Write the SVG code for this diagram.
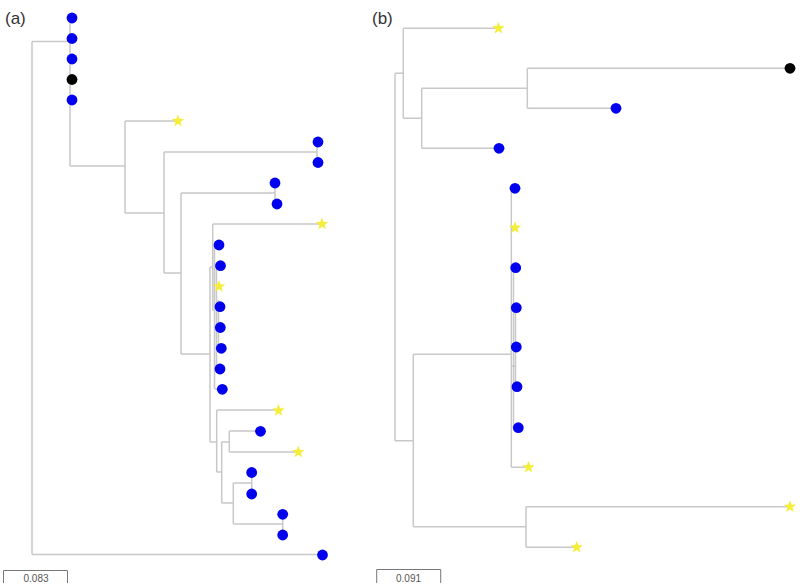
<svg xmlns="http://www.w3.org/2000/svg" xmlns:xlink="http://www.w3.org/1999/xlink" width="800" height="585" viewBox="0 0 800 585">
<style>
.e{fill:none;stroke:#c8c8c8;stroke-width:1.5}
.b{fill:#0000ee}
.k{fill:#000}
.s{fill:#f4ee3a}
.lbl{font-family:"Liberation Sans",Arial,sans-serif;font-size:17px;fill:#333}
.sc{font-family:"Liberation Sans",Arial,sans-serif;font-size:10px;fill:#555;text-anchor:middle}
.bar{fill:none;stroke:#777;stroke-width:1}
</style>
<defs>
<path id="star" d="M0,-6.5 L1.6,-2.2 L6.2,-2 L2.6,0.9 L3.8,5.3 L0,2.8 L-3.8,5.3 L-2.6,0.9 L-6.2,-2 L-1.6,-2.2 Z"/>
</defs>
<rect width="800" height="585" fill="#fff"/>
<text class="lbl" x="5" y="24">(a)</text>
<text class="lbl" x="372" y="24">(b)</text>
<g id="connectors">
<path class="e" d="M32 41.5V554.5M32 41.5H70M32 554.5H318
M70 18V166M70 166H125
M125 121V213M125 121H178M125 213H164
M164 152V273M164 152H317M317 142V162
M164 273H181M181 193V354M181 193H275M275 183V204M275 204H277
M181 354H210M210 267V442M210 267H212.7
M212.7 224V310M212.7 224H322M212.7 310H214.5
M214.5 245V389M214.5 245H219M214.5 266H220M214.5 389H221
M216.5 266V370M216.5 286H219M216.5 307H219M216.5 370H219
M218.5 300V350M218.5 327H220M218.5 348H221
M210 442H216.7M216.7 410V472M216.7 410H278M216.7 472H221.7
M221.7 442V503M221.7 442H229.3M229.3 431V452M229.3 431H260M229.3 452H298
M221.7 503H233.3M233.3 483V524M233.3 483H251.7M251.7 472.5V494
M233.3 524H282.7M282.7 514V535"/>
<path class="e" d="M395 73.3V440.7M395 73.3H403.3M395 440.7H413.3
M403.3 28.3V118.3M403.3 28.3H498M403.3 118.3H421.7
M421.7 88.3V148.3M421.7 88.3H527.3M421.7 148.3H499
M527.3 68.3V108.3M527.3 68.3H790M527.3 108.3H616
M413.3 354.3V526.7M413.3 354.3H511.3M413.3 526.7H526
M526 506.7V547.3M526 506.7H790M526 547.3H577
M511.3 188V467.3M511.3 188H515M511.3 228H515M511.3 467.3H528
M513.5 268V428M513.5 268H515.7M513.5 428H518
M515.5 308V387M515.5 308H516.3M515.5 347H516.3M515.5 387H517
M511.3 366H515.5"/>
</g>
<g id="a-leaves">
<circle id="a1" class="b" cx="72" cy="18" r="5.4"/>
<circle id="a2" class="b" cx="72" cy="38.5" r="5.4"/>
<circle id="a3" class="b" cx="72" cy="59" r="5.4"/>
<circle id="a4" class="k" cx="72" cy="79.5" r="5.4"/>
<circle id="a5" class="b" cx="72" cy="100" r="5.4"/>
<use id="a6" class="s" xlink:href="#star" x="178" y="121"/>
<circle id="a7" class="b" cx="318" cy="142" r="5.4"/>
<circle id="a8" class="b" cx="318" cy="162.5" r="5.4"/>
<circle id="a9" class="b" cx="275" cy="183" r="5.4"/>
<circle id="a10" class="b" cx="277" cy="204" r="5.4"/>
<use id="a11" class="s" xlink:href="#star" x="322" y="224"/>
<circle id="a12" class="b" cx="219" cy="245" r="5.4"/>
<circle id="a13" class="b" cx="220.5" cy="265.7" r="5.4"/>
<use id="a14" class="s" xlink:href="#star" x="219" y="286.5"/>
<circle id="a15" class="b" cx="220" cy="306.7" r="5.4"/>
<circle id="a16" class="b" cx="220.3" cy="327.5" r="5.4"/>
<circle id="a17" class="b" cx="221.3" cy="348.3" r="5.4"/>
<circle id="a18" class="b" cx="220" cy="369" r="5.4"/>
<circle id="a19" class="b" cx="222.3" cy="389.3" r="5.4"/>
<use id="a20" class="s" xlink:href="#star" x="278.5" y="410.5"/>
<circle id="a21" class="b" cx="260.5" cy="431.3" r="5.4"/>
<use id="a22" class="s" xlink:href="#star" x="298.3" y="452"/>
<circle id="a23" class="b" cx="251.7" cy="472.5" r="5.4"/>
<circle id="a24" class="b" cx="251.7" cy="494" r="5.4"/>
<circle id="a25" class="b" cx="282.7" cy="514.3" r="5.4"/>
<circle id="a26" class="b" cx="282.7" cy="535" r="5.4"/>
<circle id="a27" class="b" cx="322.5" cy="555" r="5.4"/>
</g>
<g id="b-leaves">
<use id="b1" class="s" xlink:href="#star" x="498.5" y="28.3"/>
<circle id="b2" class="k" cx="790" cy="68.3" r="5.4"/>
<circle id="b3" class="b" cx="616" cy="108.3" r="5.4"/>
<circle id="b4" class="b" cx="499" cy="148.3" r="5.4"/>
<circle id="b5" class="b" cx="515" cy="188.3" r="5.4"/>
<use id="b6" class="s" xlink:href="#star" x="515" y="227.7"/>
<circle id="b7" class="b" cx="515.7" cy="267.7" r="5.4"/>
<circle id="b8" class="b" cx="516.3" cy="307.7" r="5.4"/>
<circle id="b9" class="b" cx="516.3" cy="347" r="5.4"/>
<circle id="b10" class="b" cx="517" cy="386.7" r="5.4"/>
<circle id="b11" class="b" cx="518.3" cy="427.7" r="5.4"/>
<use id="b12" class="s" xlink:href="#star" x="528.5" y="467.3"/>
<use id="b13" class="s" xlink:href="#star" x="790" y="506.7"/>
<use id="b14" class="s" xlink:href="#star" x="576.7" y="547.3"/>
</g>
<g id="scale-a">
<path class="bar" d="M3.5 583V570.5H67.5V583"/>
<text class="sc" x="36" y="582">0.083</text>
</g>
<g id="scale-b">
<path class="bar" d="M376.7 583V569.5H440.7V583"/>
<text class="sc" x="408.5" y="582">0.091</text>
</g>
</svg>
